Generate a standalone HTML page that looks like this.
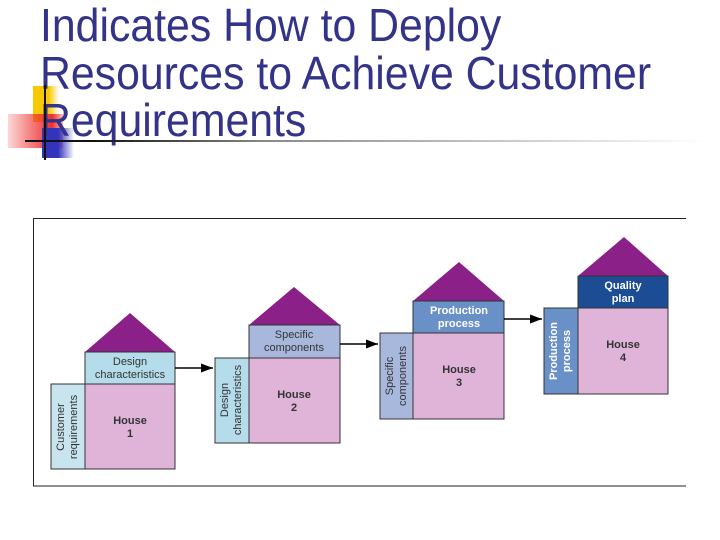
<!DOCTYPE html>
<html><head><style>
body{margin:0;width:720px;height:540px;background:#fff;position:relative;overflow:hidden;font-family:"Liberation Sans",sans-serif}
.t{position:absolute;left:40px;color:#33338a;font-size:46px;line-height:1;white-space:nowrap;transform-origin:left top;transform:scaleX(0.93)}
</style></head><body>
<div style="position:absolute;left:33px;top:86px;width:26px;height:36px;background:linear-gradient(90deg,#f8c800 60%,rgba(248,200,0,0))"></div>
<div style="position:absolute;left:8px;top:114px;width:55px;height:34px;background:linear-gradient(90deg,rgba(240,60,60,0.2),#ee3030 80%,rgba(238,48,48,0.3))"></div>
<div style="position:absolute;left:42px;top:128px;width:32px;height:30px;background:linear-gradient(90deg,#3333bb 50%,rgba(51,51,187,0))"></div>
<div class="t" style="top:-53px">Quality Function Deployment</div>
<div class="t" style="top:2px">Indicates How to Deploy</div>
<div class="t" style="top:50px">Resources to Achieve Customer</div>
<div class="t" style="top:97px">Requirements</div>
<div style="position:absolute;left:44px;top:85px;width:2px;height:75px;background:#111"></div>
<div style="position:absolute;left:25px;top:140px;width:680px;height:2px;background:linear-gradient(90deg,#111 10%,#888 35%,#fff)"></div>
<svg width="720" height="540" style="position:absolute;left:0;top:0" font-family="Liberation Sans,sans-serif" font-size="11" text-anchor="middle">
<defs><marker id="a" markerWidth="8" markerHeight="6" refX="8" refY="3" orient="auto"><path d="M0,0L8,3L0,6z" fill="#000"/></marker></defs>
<path d="M686,218.5H33.5V486H686" fill="none" stroke="#222" stroke-width="1"/>
<g stroke="#333" stroke-width="1">
<polygon points="85,352 130,313 175,352" fill="#8a2088" stroke="none"/>
<rect x="85" y="352" width="90" height="32" fill="#b4dcea"/>
<rect x="51" y="384" width="34" height="85" fill="#c8e4ee"/>
<rect x="85" y="384" width="90" height="85" fill="#e0b4d8"/>
<polygon points="249,325 294,287 340,325" fill="#8a2088" stroke="none"/>
<rect x="249" y="325" width="91" height="33" fill="#a8b8dc"/>
<rect x="215" y="358" width="34" height="85" fill="#b4dcea"/>
<rect x="249" y="358" width="91" height="85" fill="#e0b4d8"/>
<polygon points="413,301 459,262 504,301" fill="#8a2088" stroke="none"/>
<rect x="413" y="301" width="91" height="32" fill="#6a90c8"/>
<rect x="380" y="333" width="33" height="86" fill="#a8b8dc"/>
<rect x="413" y="333" width="91" height="86" fill="#e0b4d8"/>
<polygon points="578,276 624,237 668,276" fill="#8a2088" stroke="none"/>
<rect x="578" y="276" width="90" height="32" fill="#1c4c94"/>
<rect x="544" y="308" width="34" height="86" fill="#6a90c8"/>
<rect x="578" y="308" width="90" height="86" fill="#e0b4d8"/>
</g>
<g stroke="#000" stroke-width="1.5" marker-end="url(#a)">
<line x1="175" y1="368" x2="213" y2="368"/>
<line x1="340" y1="344" x2="378" y2="344"/>
<line x1="504" y1="319" x2="542" y2="319"/>
</g>
<g fill="#333">
<text x="130" y="365">Design</text><text x="130" y="378">characteristics</text>
<text x="294" y="338">Specific</text><text x="294" y="351">components</text>
<text x="130" y="424" font-weight="bold">House</text><text x="130" y="437" font-weight="bold">1</text>
<text x="294" y="398" font-weight="bold">House</text><text x="294" y="411" font-weight="bold">2</text>
<text x="459" y="373" font-weight="bold">House</text><text x="459" y="386" font-weight="bold">3</text>
<text x="623" y="348" font-weight="bold">House</text><text x="623" y="361" font-weight="bold">4</text>
<text transform="translate(64,427) rotate(-90)">Customer</text><text transform="translate(77,427) rotate(-90)">requirements</text>
<text transform="translate(228,400) rotate(-90)">Design</text><text transform="translate(241,400) rotate(-90)">characteristics</text>
<text transform="translate(393,376) rotate(-90)">Specific</text><text transform="translate(406,376) rotate(-90)">components</text>
</g>
<g fill="#fff" font-weight="bold">
<text x="459" y="314">Production</text><text x="459" y="327">process</text>
<text x="623" y="289">Quality</text><text x="623" y="302">plan</text>
<text transform="translate(557,351) rotate(-90)">Production</text><text transform="translate(570,351) rotate(-90)">process</text>
</g>
</svg>
</body></html>
